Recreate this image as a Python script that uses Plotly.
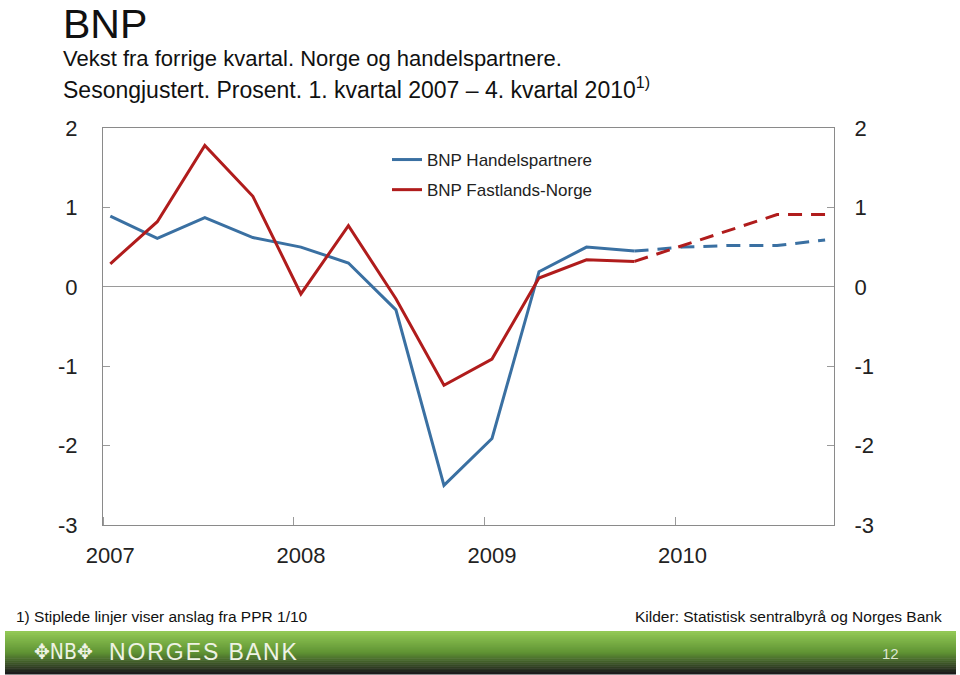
import plotly.graph_objects as go

# ---- data ----
quarters = ["2007-01-15", "2007-04-15", "2007-07-15", "2007-10-15",
            "2008-01-15", "2008-04-15", "2008-07-15", "2008-10-15",
            "2009-01-15", "2009-04-15", "2009-07-15", "2009-10-15",
            "2010-01-15", "2010-04-15", "2010-07-15", "2010-10-15"]
handelspartnere = [0.89, 0.61, 0.87, 0.62, 0.50, 0.30, -0.29, -2.50,
                   -1.91, 0.19, 0.50, 0.45, 0.50, 0.52, 0.52, 0.59]
fastlands_norge = [0.29, 0.82, 1.78, 1.14, -0.09, 0.77, -0.15, -1.24,
                   -0.91, 0.11, 0.34, 0.32, 0.52, 0.72, 0.91, 0.91]
forecast_from = 11  # index of last actual quarter (4. kvartal 2009)
year_labels = ["2007", "2008", "2009", "2010"]
year_label_pos = ["2007-01-15", "2008-01-15", "2009-01-15", "2010-01-15"]
y_ticks = [-3, -2, -1, 0, 1, 2]
y_tick_text = ["-3", "-2", "-1", "0", "1", "2"]

BLUE = "#3a70a2"
RED = "#b01c1c"

L, R, T, B = 103, 834, 128, 525
W, H = 960, 675

def px(x):
    return (x - L) / (R - L)

def py(y):
    return (B - y) / (B - T)

fig = go.Figure()
series = [("BNP Handelspartnere", handelspartnere, BLUE),
          ("BNP Fastlands-Norge", fastlands_norge, RED)]
for name, vals, col in series:
    fig.add_trace(go.Scatter(
        x=quarters[:forecast_from + 1], y=vals[:forecast_from + 1],
        mode="lines", name=name, legendgroup=name,
        line=dict(color=col, width=3)))
    fig.add_trace(go.Scatter(
        x=quarters[forecast_from:], y=vals[forecast_from:],
        mode="lines", name=name + " (anslag)", legendgroup=name, showlegend=False,
        line=dict(color=col, width=3, dash="14px,9px")))

# invisible trace so the right-hand axis is drawn
fig.add_trace(go.Scatter(x=quarters, y=handelspartnere, yaxis="y2",
                         mode="lines", line=dict(width=0), opacity=0,
                         showlegend=False, hoverinfo="skip"))

tick_font = dict(family="Liberation Sans, Arial, sans-serif", size=22, color="#222")

fig.update_layout(
    width=W, height=H,
    margin=dict(l=L, r=W - R, t=T, b=H - B),
    paper_bgcolor="white", plot_bgcolor="white",
    showlegend=True,
    legend=dict(x=px(387), y=py(142), xanchor="left", yanchor="top",
                bgcolor="rgba(0,0,0,0)", font=dict(family="Liberation Sans, Arial, sans-serif", size=17, color="#222"),
                traceorder="grouped", tracegroupgap=5, itemwidth=30),
    xaxis=dict(
        type="date", range=["2007-01-01", "2010-11-01"],
        tickmode="array", tickvals=year_label_pos, ticktext=year_labels,
        ticks="", tickfont=tick_font, ticklabelstandoff=11,
        showgrid=False, zeroline=False,
        showline=True, linecolor="#8a8a8a", linewidth=1, mirror=True,
        minor=dict(tickmode="linear", tick0="2007-01-01", dtick="M12",
                   ticks="inside", ticklen=8, tickcolor="#9a9a9a", showgrid=False),
    ),
    yaxis=dict(
        range=[-3, 2], tickmode="array", tickvals=y_ticks, ticktext=y_tick_text,
        ticks="inside", ticklen=7, tickcolor="#9a9a9a",
        tickfont=tick_font, ticklabelstandoff=20,
        showgrid=False, zeroline=True, zerolinecolor="#9a9a9a", zerolinewidth=1,
        showline=True, linecolor="#8a8a8a", linewidth=1,
    ),
    yaxis2=dict(
        range=[-3, 2], tickmode="array", tickvals=y_ticks, ticktext=y_tick_text,
        overlaying="y", side="right",
        ticks="inside", ticklen=7, tickcolor="#9a9a9a",
        tickfont=tick_font, ticklabelstandoff=15,
        showgrid=False, zeroline=False,
        showline=True, linecolor="#8a8a8a", linewidth=1,
    ),
)

ann_font = "Liberation Sans, Arial, sans-serif"
texts = [
    (62, 0, "BNP", 41, "top"),
    (62, 58, "Vekst fra forrige kvartal. Norge og handelspartnere.", 22, "middle"),
    (62, 88, "Sesongjustert. Prosent. 1. kvartal 2007 \u2013 4. kvartal 2010<sup>1)</sup>", 23, "middle"),
]
for x, y, t, s, va in texts:
    fig.add_annotation(x=px(x), y=py(y), xref="paper", yref="paper", text=t,
                       showarrow=False, xanchor="left", yanchor=va, borderpad=0,
                       font=dict(family=ann_font, size=s, color="#111"))

narrow = "Liberation Sans Narrow, Arial Narrow, Liberation Sans, sans-serif"
fig.add_annotation(x=px(14), y=py(616), xref="paper", yref="paper",
                   text="1) Stiplede linjer viser anslag fra PPR 1/10", showarrow=False,
                   xanchor="left", yanchor="middle", font=dict(family=narrow, size=15.5, color="#111"))
fig.add_annotation(x=px(944), y=py(616), xref="paper", yref="paper",
                   text="Kilder: Statistisk sentralbyrå og Norges Bank", showarrow=False,
                   xanchor="right", yanchor="middle", font=dict(family=narrow, size=15.5, color="#111"))

# footer bar gradient
top_c = (146, 200, 86)
mid_c = (96, 148, 52)
bot_c = (28, 28, 28)
y0, y1 = 631, 674
n = 22
for i in range(n):
    f = i / (n - 1)
    if f < 0.5:
        g = f / 0.5
        c = tuple(int(top_c[k] + (mid_c[k] - top_c[k]) * g) for k in range(3))
    else:
        g = (f - 0.5) / 0.5
        c = tuple(int(mid_c[k] + (bot_c[k] - mid_c[k]) * g) for k in range(3))
    ya = y0 + (y1 - y0) * i / n
    yb = y0 + (y1 - y0) * (i + 1) / n
    fig.add_shape(type="rect", xref="paper", yref="paper",
                  x0=px(5), x1=px(956), y0=py(yb + 0.5), y1=py(ya),
                  fillcolor="rgb(%d,%d,%d)" % c, line=dict(width=0), layer="below")

fig.add_annotation(x=px(32), y=py(652), xref="paper", yref="paper",
                   text="\u2725NB\u2725", showarrow=False, xanchor="left", yanchor="middle",
                   font=dict(family="DejaVu Sans Condensed, DejaVu Sans", size=21, color="#eef2e4"))
fig.add_annotation(x=px(107), y=py(652), xref="paper", yref="paper",
                   text="\u200a".join("NORGES BANK"), showarrow=False, xanchor="left", yanchor="middle",
                   font=dict(family="Liberation Sans, Arial", size=23, color="#eef2e4"))
fig.add_annotation(x=px(890), y=py(653), xref="paper", yref="paper",
                   text="12", showarrow=False, xanchor="center", yanchor="middle",
                   font=dict(family=narrow, size=15, color="#dde6d0"))

fig.write_html("out.html")
